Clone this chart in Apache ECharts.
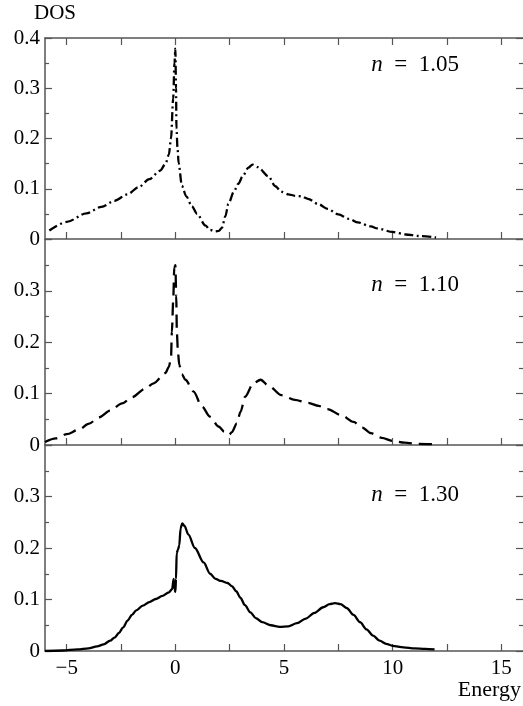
<!DOCTYPE html>
<html>
<head>
<meta charset="utf-8">
<script src="https://cdn.jsdelivr.net/npm/echarts@6/dist/echarts.min.js"></script>
<style>html,body{margin:0;padding:0;background:#fff;}#c{width:523px;height:706px;}</style>
</head>
<body>
<div id="c"></div>
<script>
// ---- data ----
const energyTicks = [-5, -2.5, 0, 2.5, 5, 7.5, 10, 12.5, 15];
const energyLabels = [-5, 0, 5, 10, 15];
const dosTicksTop = [0, 0.1, 0.2, 0.3, 0.4];
const dosTicksLower = [0, 0.1, 0.2, 0.3];
const panelLabels = ['1.05', '1.10', '1.30'];

const energy105 = [-5.8,-5,-4.1,-3.4,-2.8,-2.2,-1.7,-1.2,-0.7,-0.45,-0.3,-0.2,-0.1,-0.04,0,0.03,0.05,0.1,0.15,0.3,0.5,0.76,1.0,1.38,1.6,1.83,2.0,2.14,2.3,2.44,2.7,2.9,3.1,3.36,3.55,3.8,4.28,4.6,4.88,5.2,5.5,5.8,6.1,6.6,7.0,7.5,8.0,8.4,9.0,9.3,10.0,10.6,11.2,12.0];
const dos105 = [0.017,0.034,0.051,0.064,0.076,0.089,0.103,0.119,0.136,0.15,0.168,0.2,0.28,0.35,0.379,0.3,0.22,0.18,0.151,0.106,0.085,0.065,0.05,0.027,0.018,0.015,0.016,0.022,0.045,0.07,0.095,0.11,0.125,0.142,0.148,0.143,0.125,0.105,0.094,0.089,0.086,0.085,0.08,0.069,0.06,0.049,0.04,0.033,0.025,0.021,0.014,0.009,0.006,0.003];

const energy110 = [-6,-5.5,-5,-4.44,-4,-3.5,-3,-2.45,-2,-1.38,-1,-0.46,-0.3,-0.2,-0.16,-0.1,-0.05,0,0.04,0.07,0.12,0.18,0.3,0.46,0.84,1.22,1.6,1.99,2.25,2.48,2.6,2.83,3.0,3.21,3.59,3.92,4.3,4.88,5.5,6.1,6.6,7.0,7.64,8.2,8.6,9.0,9.5,10.0,10.55,11.2,11.93];
const dos110 = [0.006,0.013,0.021,0.03,0.041,0.054,0.067,0.081,0.093,0.11,0.12,0.14,0.152,0.17,0.22,0.28,0.345,0.35,0.29,0.218,0.18,0.156,0.138,0.127,0.104,0.075,0.055,0.036,0.026,0.02,0.025,0.042,0.065,0.094,0.12,0.127,0.115,0.097,0.088,0.082,0.076,0.07,0.058,0.045,0.034,0.023,0.014,0.008,0.0045,0.002,0.0014];

const energy130 = [-6,-5.2,-4.5,-4,-3.6,-3.3,-3.0,-2.8,-2.6,-2.4,-2.2,-2.0,-1.8,-1.5,-1.2,-0.9,-0.6,-0.3,-0.15,-0.08,-0.04,0,0.03,0.06,0.12,0.18,0.24,0.32,0.42,0.6,0.9,1.3,1.6,1.85,2.1,2.4,2.6,2.8,3.0,3.2,3.45,3.7,4.0,4.4,4.8,5.2,5.6,6.0,6.4,6.8,7.1,7.35,7.6,7.9,8.2,8.5,8.8,9.1,9.4,9.7,10.0,10.5,11.0,11.5,11.93];
const dos130 = [0,0.001,0.003,0.005,0.009,0.013,0.02,0.026,0.035,0.046,0.059,0.07,0.079,0.088,0.095,0.101,0.107,0.114,0.12,0.14,0.12,0.115,0.14,0.19,0.197,0.205,0.238,0.248,0.243,0.226,0.2,0.172,0.15,0.14,0.136,0.132,0.126,0.116,0.103,0.089,0.075,0.064,0.056,0.05,0.047,0.048,0.054,0.063,0.074,0.085,0.091,0.093,0.091,0.083,0.07,0.056,0.042,0.03,0.02,0.014,0.01,0.007,0.005,0.004,0.003];

// ---- chart ----
const FONT = '"Liberation Serif", "DejaVu Serif", serif';
const AX = '#555';
const grids = [
  {left: 45, top: 38, width: 480, height: 201},
  {left: 45, top: 239.5, width: 480, height: 205.5},
  {left: 45, top: 445, width: 480, height: 206}
];
const lineTypes = [[9, 3.5, 2, 3.5], [13, 7], 'solid'];
const seriesData = [
  energy105.map((e, i) => [e, dos105[i]]),
  energy110.map((e, i) => [e, dos110[i]]),
  energy130.map((e, i) => [e, dos130[i]])
];
const fmtE = v => (v < 0 ? '\u2212' + Math.abs(v) : String(v));

const xAxes = [], yAxes = [], series = [];
grids.forEach((g, k) => {
  xAxes.push({
    type: 'value', gridIndex: k, min: -6, max: 16, position: 'bottom',
    axisLine: {show: true, onZero: false, lineStyle: {color: AX, width: 1.5}},
    axisTick: {show: true, inside: true, length: 7, customValues: energyTicks, lineStyle: {color: AX, width: 1.2}},
    axisLabel: {show: k === 2, customValues: energyLabels, formatter: fmtE, color: '#000', fontFamily: FONT, fontSize: 21, margin: 7},
    splitLine: {show: false}
  });
  yAxes.push({
    type: 'value', gridIndex: k, min: 0, max: 0.4, interval: 0.1, position: 'left',
    axisLine: {show: true, onZero: false, lineStyle: {color: AX, width: 1.5}},
    axisTick: {show: true, inside: true, length: 7, lineStyle: {color: AX, width: 1.2}},
    minorTick: {show: true, splitNumber: 2, length: 4, lineStyle: {color: AX, width: 1.2}},
    axisLabel: {customValues: k === 0 ? dosTicksTop : dosTicksLower, color: '#000', fontFamily: FONT, fontSize: 21, margin: 5,
      formatter: v => String(Math.round(v * 10) / 10)},
    splitLine: {show: false}
  });
  yAxes.push({
    type: 'value', gridIndex: k, min: 0, max: 0.4, interval: 0.1, position: 'right',
    axisLine: {show: false, onZero: false},
    axisTick: {show: true, inside: true, length: 7, lineStyle: {color: AX, width: 1.2}},
    minorTick: {show: true, splitNumber: 2, length: 4, lineStyle: {color: AX, width: 1.2}},
    axisLabel: {show: false}, splitLine: {show: false}
  });
  series.push({
    type: 'line', xAxisIndex: k, yAxisIndex: 2 * k, data: seriesData[k],
    showSymbol: false, symbol: 'none', smooth: 0.3, smoothMonotone: 'x',
    lineStyle: {color: '#000', width: 2.3, type: lineTypes[k], cap: 'butt'},
    silent: true, animation: false
  });
});
// top ticks of the first panel
xAxes.push({
  type: 'value', gridIndex: 0, min: -6, max: 16, position: 'top',
  axisLine: {show: true, onZero: false, lineStyle: {color: AX, width: 1.5}},
  axisTick: {show: true, inside: true, length: 7, customValues: energyTicks, lineStyle: {color: AX, width: 1.2}},
  axisLabel: {show: false}, splitLine: {show: false}
});

const labelY = [65, 285, 495];
const graphic = [
  {type: 'text', left: 34, top: 3, style: {text: 'DOS', font: '21px ' + FONT, fill: '#000'}},
  {type: 'text', right: 2, top: 679, style: {text: 'Energy', font: '22px ' + FONT, fill: '#000'}}
];
panelLabels.forEach((t, k) => {
  graphic.push({
    type: 'text', x: 459, y: labelY[k],
    style: {
      text: '{i|n}  =  ' + t, align: 'right', verticalAlign: 'middle',
      font: '23px ' + FONT, fill: '#000',
      rich: {i: {fontStyle: 'italic', fontFamily: FONT, fontSize: 23}}
    }
  });
});

const chart = echarts.init(document.getElementById('c'), null, {renderer: 'canvas'});
chart.setOption({
  animation: false,
  backgroundColor: '#fff',
  grid: grids,
  xAxis: xAxes,
  yAxis: yAxes,
  series: series,
  graphic: graphic
});
</script>
</body>
</html>
